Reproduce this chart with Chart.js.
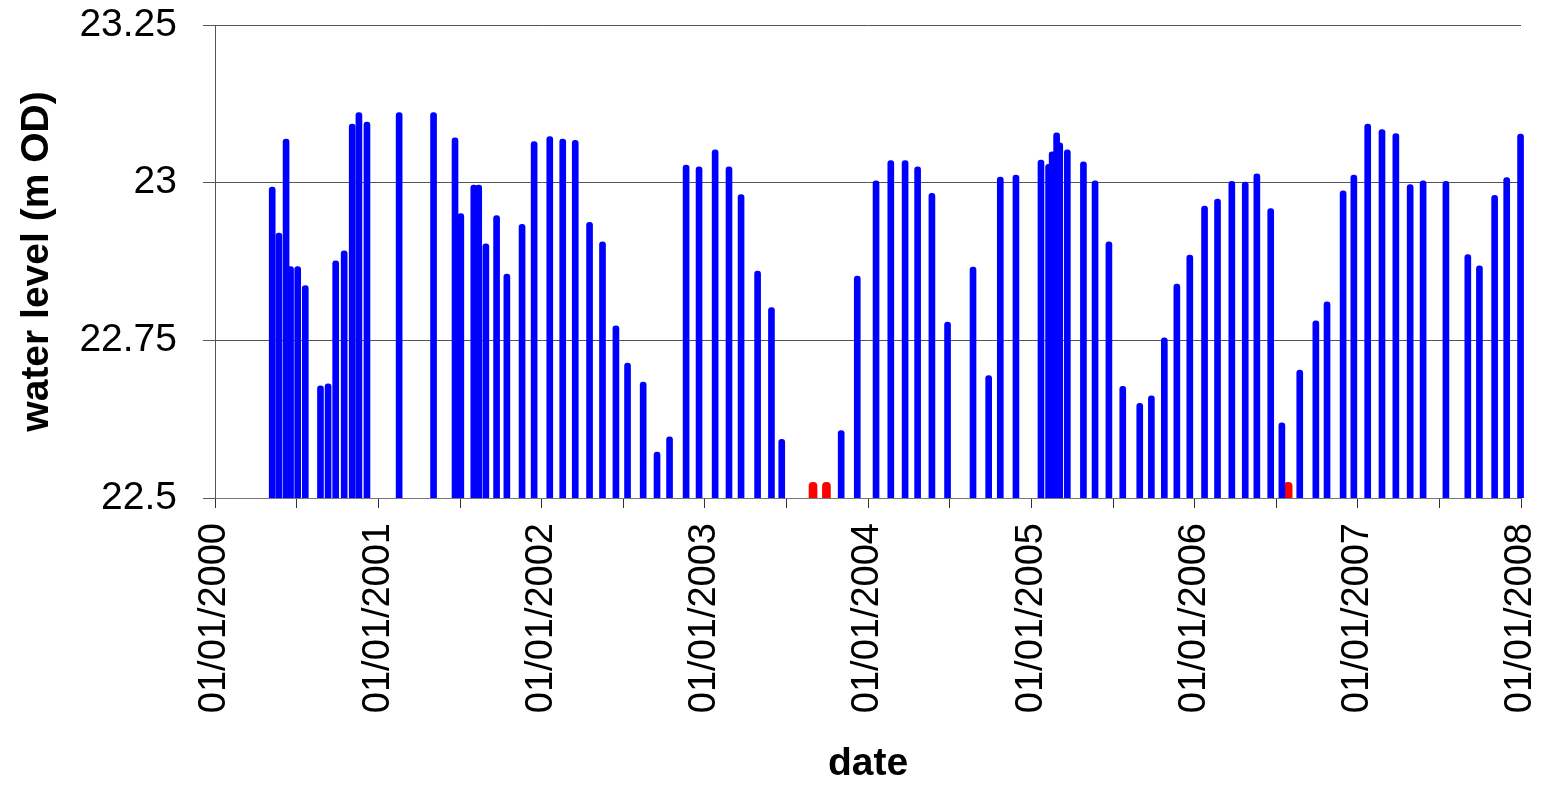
<!DOCTYPE html>
<html>
<head>
<meta charset="utf-8">
<script src="https://cdn.jsdelivr.net/npm/chart.js@4/dist/chart.umd.min.js"></script>
<style>
html,body{margin:0;padding:0;background:#fff;}
#wrap{width:1543px;height:786px;}
</style>
</head>
<body>
<div id="wrap"><canvas id="c" width="1543" height="786"></canvas></div>
<script>
// ---- data ----
const dates = [
 '2000-05-08','2000-05-23','2000-06-08','2000-06-18','2000-07-04','2000-07-21','2000-08-24','2000-09-10','2000-09-27','2000-10-16',
 '2000-11-03','2000-11-18','2000-12-06','2001-02-16','2001-05-04','2001-06-21','2001-07-04','2001-08-02','2001-08-13','2001-08-29',
 '2001-09-22','2001-10-15','2001-11-18','2001-12-15','2002-01-19','2002-02-17','2002-03-17','2002-04-18','2002-05-17','2002-06-16',
 '2002-07-12','2002-08-16','2002-09-16','2002-10-14','2002-11-20','2002-12-19','2003-01-24','2003-02-24','2003-03-23','2003-04-29',
 '2003-05-30','2003-06-22','2003-11-02','2003-12-08','2004-01-19','2004-02-21','2004-03-24','2004-04-21','2004-05-23','2004-06-27',
 '2004-08-23','2004-09-27','2004-10-23','2004-11-27','2005-01-22','2005-02-08','2005-02-16','2005-02-26','2005-03-05','2005-03-22',
 '2005-04-27','2005-05-23','2005-06-23','2005-07-24','2005-08-31','2005-09-26','2005-10-25','2005-11-22','2005-12-21','2006-01-23',
 '2006-02-21','2006-03-25','2006-04-24','2006-05-20','2006-06-20','2006-07-15','2006-08-24','2006-09-29','2006-10-24','2006-11-29',
 '2006-12-23','2007-01-23','2007-02-24','2007-03-27','2007-04-28','2007-05-27','2007-07-17','2007-09-04','2007-09-30','2007-11-03',
 '2007-11-30','2007-12-31'
];
const levels = [
 22.993,22.920,23.069,22.867,22.867,22.837,22.678,22.681,22.876,22.892,
 23.093,23.111,23.096,23.111,23.111,23.071,22.951,22.996,22.996,22.903,
 22.948,22.855,22.934,23.065,23.073,23.069,23.067,22.937,22.906,22.773,
 22.714,22.684,22.573,22.597,23.028,23.025,23.052,23.025,22.981,22.860,
 22.802,22.593,22.607,22.852,23.003,23.035,23.035,23.025,22.983,22.779,
 22.866,22.694,23.009,23.012,23.036,23.029,23.049,23.079,23.063,23.052,
 23.033,23.003,22.906,22.677,22.650,22.662,22.754,22.839,22.885,22.963,
 22.974,23.002,23.001,23.014,22.959,22.619,22.703,22.781,22.811,22.987,
 23.012,23.093,23.084,23.078,22.997,23.003,23.002,22.886,22.868,22.980,
 23.008,23.077
];
const dryDates = ['2003-08-31','2003-09-30','2006-07-29'];
const dryLevels = [22.525,22.525,22.525];
const yTicks = [22.5,22.75,23,23.25];
const labelYears = [2000,2001,2002,2003,2004,2005,2006,2007,2008];
const yTitle = 'water level (m OD)';
const xTitle = 'date';

// ---- helpers ----
const DAY = 86400000;
const T0 = Date.UTC(2000,0,1);
function dayOf(s){const p=s.split('-').map(Number);return (Date.UTC(p[0],p[1]-1,p[2])-T0)/DAY;}
const yearStarts = labelYears.map(y=>(Date.UTC(y,0,1)-T0)/DAY);
const tickVals = [];
yearStarts.forEach((v,i)=>{tickVals.push(v); if(i<yearStarts.length-1) tickVals.push((v+yearStarts[i+1])/2);});
const labelMap = {};
yearStarts.forEach((v,i)=>{labelMap[v]='01/01/'+labelYears[i];});
const BASE = yTicks[0];

const FONT = "'Liberation Sans', Arial, sans-serif";
const CLIP = {left: 10, right: 10, top: 10, bottom: 0};

new Chart(document.getElementById('c'), {
  type: 'bar',
  data: {
    datasets: [
      {
        label: 'water level',
        data: dates.map((d,i)=>({x: dayOf(d), y: [BASE, levels[i]]})),
        backgroundColor: '#0000FF',
        borderWidth: 0,
        barThickness: 6,
        borderRadius: 3,
        borderSkipped: 'start',
        grouped: false,
        clip: CLIP
      },
      {
        label: 'dry',
        data: dryDates.map((d,i)=>({x: dayOf(d), y: [BASE, dryLevels[i]]})),
        backgroundColor: '#FF0000',
        borderWidth: 0,
        barThickness: 8,
        borderRadius: 4,
        borderSkipped: 'start',
        grouped: false,
        clip: CLIP
      }
    ]
  },
  options: {
    responsive: false,
    animation: false,
    devicePixelRatio: 1,
    layout: {padding: {top: 25, right: 22, left: 0, bottom: 0}},
    plugins: {legend: {display: false}, tooltip: {enabled: false}},
    scales: {
      x: {
        type: 'linear',
        min: 0,
        max: yearStarts[yearStarts.length-1],
        offset: false,
        afterBuildTicks: s => { s.ticks = tickVals.map(v=>({value: v})); },
        afterFit: s => { s.height = 786 - 498; s.paddingLeft = 0; s.paddingRight = 0; },
        grid: {offset: false, drawOnChartArea: false, drawTicks: true, tickLength: 10, color: '#333', lineWidth: 1},
        border: {display: true, color: '#777', width: 1},
        ticks: {
          autoSkip: false,
          minRotation: 90,
          maxRotation: 90,
          padding: 15,
          color: '#000',
          font: {family: FONT, size: 38},
          callback: v => labelMap[v] || ''
        },
        title: {display: true, text: xTitle, color: '#000', font: {family: FONT, size: 39, weight: 'bold', lineHeight: 1.1}, padding: {top: 0, bottom: 0}}
      },
      y: {
        type: 'linear',
        min: yTicks[0],
        max: yTicks[yTicks.length-1],
        afterBuildTicks: s => { s.ticks = yTicks.map(v=>({value: v})); },
        afterFit: s => { s.width = 215; s.paddingTop = 0; s.paddingBottom = 0; },
        grid: {drawTicks: true, tickLength: 12, color: '#555', lineWidth: 1},
        border: {display: true, color: '#555', width: 1},
        ticks: {
          padding: 26,
          color: '#000',
          font: {family: FONT, size: 39},
          callback: v => String(v)
        },
        title: {display: true, text: yTitle, color: '#000', font: {family: FONT, size: 39, weight: 'bold'}, padding: {top: 14, bottom: 0}}
      }
    }
  }
});
</script>
</body>
</html>
